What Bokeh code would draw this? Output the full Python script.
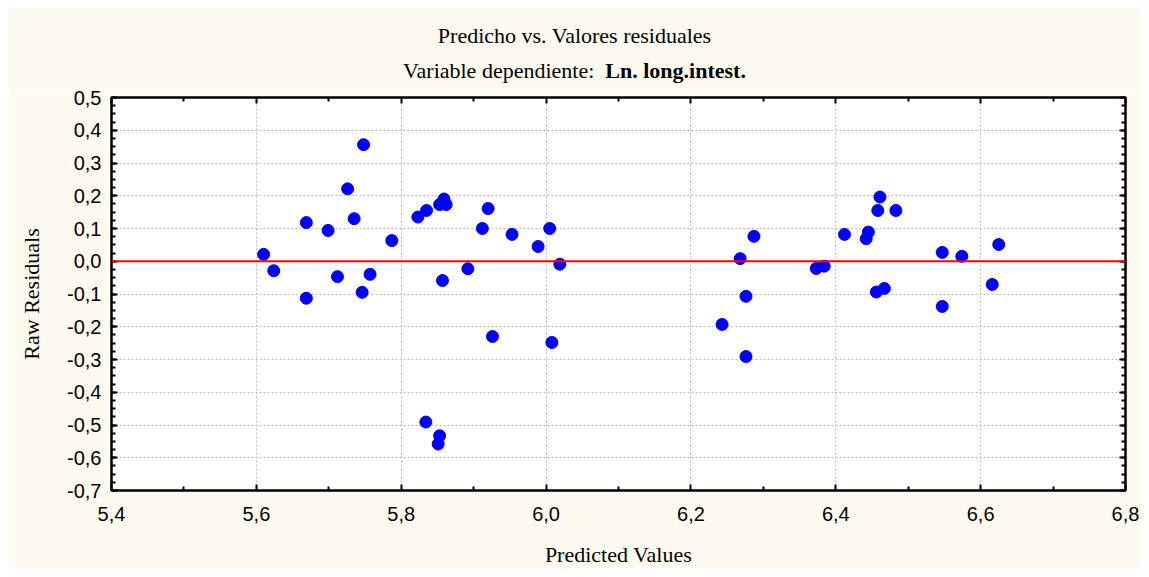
from bokeh.plotting import figure
from bokeh.models import (Range1d, FixedTicker, LinearAxis, CustomJSTickFormatter,
                          Span, Div)
from bokeh.layouts import column
from bokeh.embed import file_html
from bokeh.resources import INLINE

# ---- data ----
predicted = [5.610, 5.624, 5.669, 5.669, 5.699, 5.712, 5.726, 5.735, 5.746, 5.748,
             5.757, 5.787, 5.823, 5.834, 5.835, 5.851, 5.853, 5.853, 5.857, 5.859,
             5.862, 5.892, 5.912, 5.920, 5.926, 5.953, 5.989, 6.005, 6.008, 6.019,
             6.243, 6.268, 6.276, 6.276, 6.287, 6.373, 6.384, 6.412, 6.442, 6.445,
             6.456, 6.458, 6.461, 6.467, 6.483, 6.547, 6.547, 6.574, 6.616, 6.625]
residuals = [0.021, -0.029, 0.118, -0.113, 0.094, -0.047, 0.221, 0.130, -0.095, 0.356,
             -0.040, 0.063, 0.135, -0.491, 0.155, -0.558, 0.173, -0.533, -0.059, 0.190,
             0.173, -0.023, 0.100, 0.161, -0.230, 0.082, 0.045, 0.100, -0.248, -0.009,
             -0.193, 0.008, -0.107, -0.291, 0.076, -0.022, -0.015, 0.082, 0.069, 0.089,
             -0.094, 0.155, 0.196, -0.083, 0.155, 0.027, -0.138, 0.015, -0.071, 0.051]

x_ticks = [5.4, 5.6, 5.8, 6.0, 6.2, 6.4, 6.6, 6.8]
x_minor = [5.5, 5.7, 5.9, 6.1, 6.3, 6.5, 6.7]
y_ticks = [0.5, 0.4, 0.3, 0.2, 0.1, 0.0, -0.1, -0.2, -0.3, -0.4, -0.5, -0.6, -0.7]
y_minor = [round(-0.7 + 0.025 * i, 3) for i in range(49)]

title1 = "Predicho vs. Valores residuales"
title2a = "Variable dependiente:"
title2b = "Ln. long.intest."
xlabel = "Predicted Values"
ylabel = "Raw Residuals"

SERIF = "Liberation Serif"
SANS = "Liberation Sans"
BG = "#FFFAEF"

TITLE_H = 80

p = figure(width=1133, height=561 - TITLE_H, output_backend="svg", toolbar_location=None,
           x_range=Range1d(5.4, 6.8), y_range=Range1d(-0.7, 0.5),
           x_axis_location=None, y_axis_location=None,
           min_border_left=103, min_border_right=16, min_border_top=89 - TITLE_H,
           min_border_bottom=77)
p.background_fill_color = "white"
p.border_fill_color = BG
p.outline_line_color = "black"
p.outline_line_width = 2

fmt = CustomJSTickFormatter(code="""
var v = Math.abs(tick) < 1e-9 ? 0 : tick;
return v.toFixed(1).replace('.', ',');
""")

def make_axis(ticker, labels, standoff):
    ax = LinearAxis(ticker=ticker, formatter=fmt)
    ax.axis_line_color = "black"
    ax.axis_line_width = 2
    ax.major_tick_in = 6
    ax.major_tick_out = 0
    ax.minor_tick_in = 4
    ax.minor_tick_out = 0
    ax.major_tick_line_width = 2
    ax.minor_tick_line_width = 2
    ax.major_tick_line_color = "black"
    ax.minor_tick_line_color = "black"
    ax.major_label_standoff = standoff
    ax.axis_label_text_font = SERIF
    ax.axis_label_text_font_size = "22px"
    ax.axis_label_text_font_style = "normal"
    ax.axis_label_text_color = "black"
    if labels:
        ax.major_label_text_font = SANS
        ax.major_label_text_font_size = "20px"
        ax.major_label_text_color = "black"
    else:
        ax.major_label_text_font_size = "0px"
        ax.major_label_text_alpha = 0
    return ax

xb = make_axis(FixedTicker(ticks=x_ticks, minor_ticks=x_minor), True, 16)
xb.axis_label = xlabel
xb.axis_label_standoff = 18
p.add_layout(xb, "below")
yl = make_axis(FixedTicker(ticks=y_ticks, minor_ticks=y_minor), True, 10)
yl.axis_label = ylabel
yl.axis_label_standoff = 20
p.add_layout(yl, "left")
p.add_layout(make_axis(FixedTicker(ticks=x_ticks, minor_ticks=x_minor), False, 0), "above")
p.add_layout(make_axis(FixedTicker(ticks=y_ticks, minor_ticks=y_minor), False, 0), "right")

p.xgrid.ticker = FixedTicker(ticks=x_ticks)
p.ygrid.ticker = FixedTicker(ticks=y_ticks)
for g in (p.xgrid, p.ygrid):
    g.grid_line_color = "#BBBBBB"
    g.grid_line_dash = "2 2"
    g.grid_line_width = 1

p.add_layout(Span(location=0, dimension="width", line_color="red", line_width=2))

p.scatter(predicted, residuals, size=12, color="#0000FF", marker="circle")

title_html = (
    '<div style="margin:0;padding:10px 0 0 3px;width:1130px;text-align:center;'
    'font-family:\'Liberation Serif\';font-size:22px;line-height:35px;color:black;">'
    f'{title1}<br>{title2a}&nbsp; <span style="font-weight:bold;font-size:22px;">{title2b}</span>'
    '</div>'
)
title_div = Div(text=title_html, width=1133, height=TITLE_H,
                styles={"background-color": BG, "margin": "0", "padding": "0"})

layout = column(title_div, p, spacing=0)
layout.styles = {"margin-left": "8px", "margin-top": "8px"}

open("out.html", "w").write(file_html(layout, INLINE))
